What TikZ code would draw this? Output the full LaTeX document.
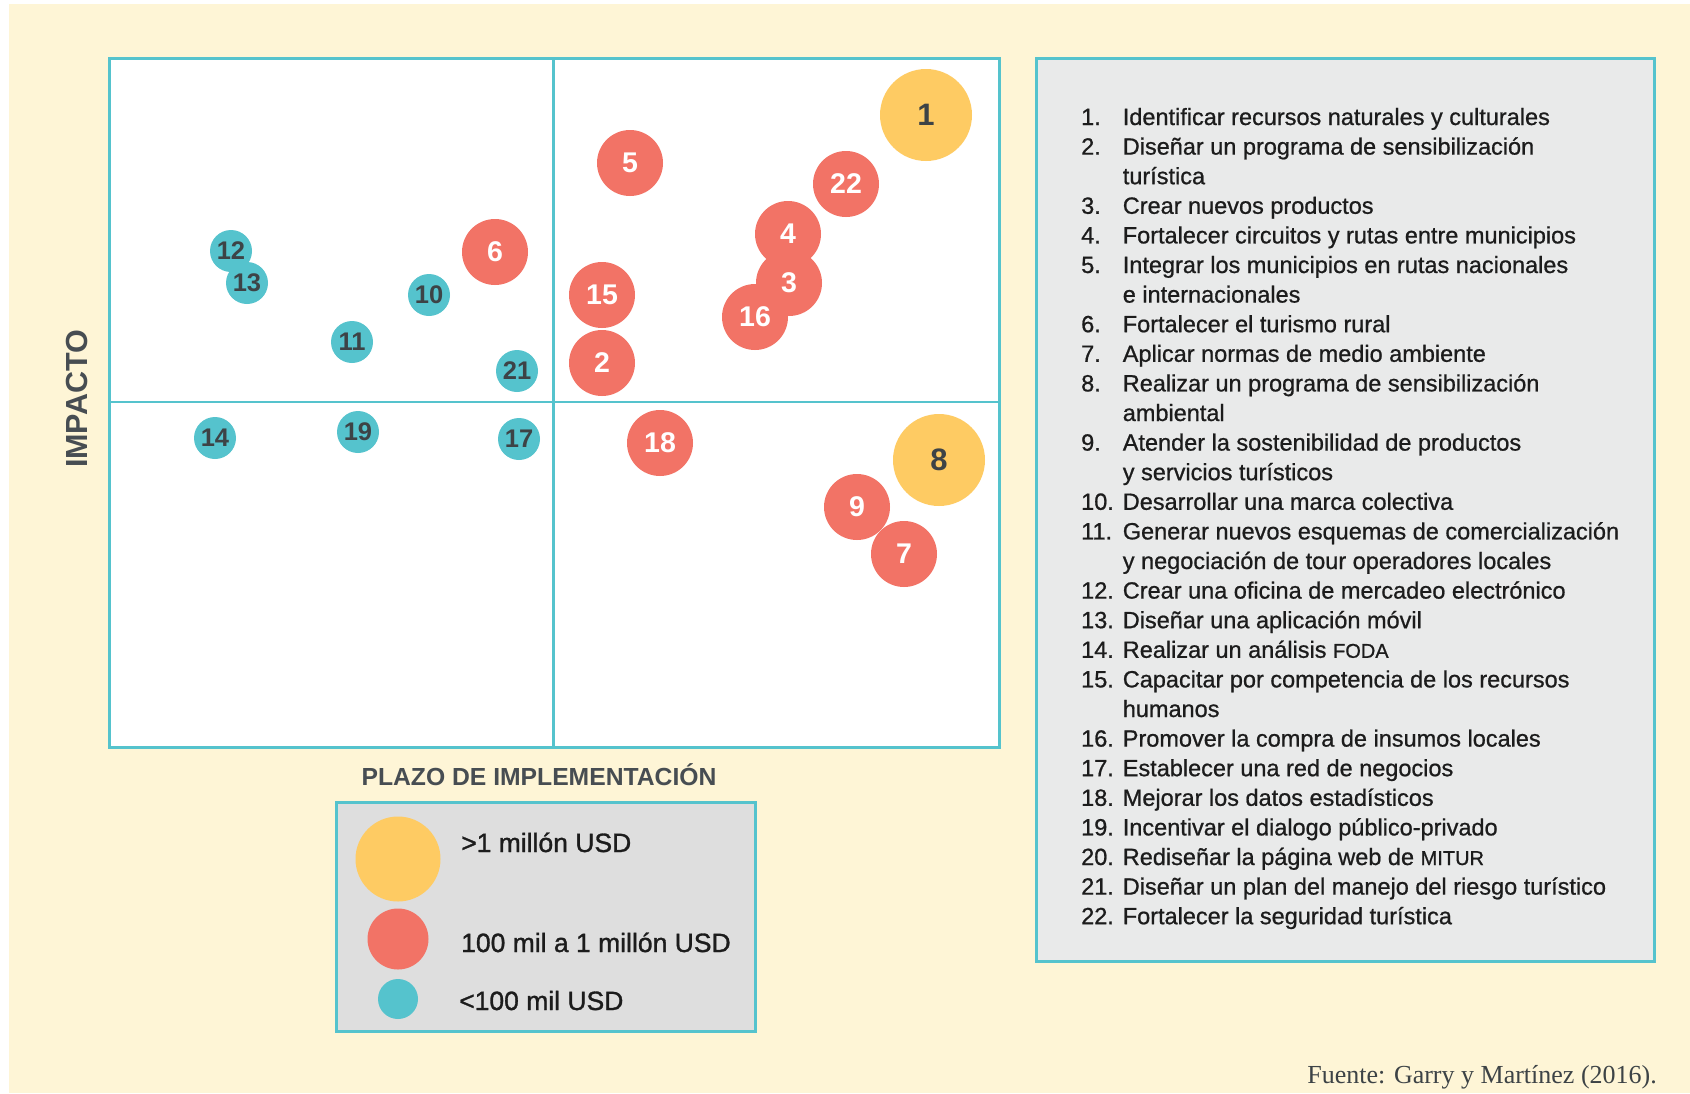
\documentclass[tikz,border=0pt]{standalone}
\usepackage{fontspec}
\setmainfont{Liberation Sans}
\newfontfamily\medf[FakeBold=0.8]{Liberation Sans}
\newfontfamily\legf[FakeBold=1.2]{Liberation Sans}
\newfontfamily\srf{Liberation Serif}
\definecolor{cream}{HTML}{FEF5D6}
\definecolor{cyanc}{HTML}{55C3CD}
\definecolor{redc}{HTML}{F27366}
\definecolor{yelc}{HTML}{FECB63}
\definecolor{darkt}{HTML}{3D4346}
\definecolor{axist}{HTML}{474D52}
\definecolor{listbg}{HTML}{E9EAEA}
\definecolor{legbg}{HTML}{DEDEDE}
\definecolor{listt}{HTML}{1C1C1C}
\tikzset{
  frame/.style={draw=cyanc, line width=2.5pt, inner sep=0pt, anchor=north west},
  bub/.style={circle, inner sep=0pt, draw=none, font=\bfseries},
  cy/.style={bub, fill=cyanc, minimum size=42pt, text=darkt, font=\fontsize{25.5}{25}\selectfont\bfseries},
  rd/.style={bub, fill=redc, minimum size=66pt, text=white, font=\fontsize{28.5}{28}\selectfont\bfseries},
  yl/.style={bub, fill=yelc, minimum size=92pt, text=darkt, font=\fontsize{31}{30}\selectfont\bfseries},
  listtxt/.style={inner sep=0pt, anchor=base west, text=listt, font=\medf\fontsize{23.5}{28}\selectfont},
  legtxt/.style={inner sep=0pt, anchor=base west, text=listt, font=\legf\fontsize{26.5}{30}\selectfont},
  axlab/.style={inner sep=0pt, text=axist, font=\bfseries}
}
\begin{document}
\begin{tikzpicture}[x=1pt,y=-1pt]
\useasboundingbox (0,0) rectangle (1690,1093);
\fill[white] (0,0) rectangle (1690,1093);
\fill[cream] (9,4) rectangle (1690,1093);
% plot frame
\node[frame, fill=white, minimum width=890pt, minimum height=689pt] (plot) at (108,57) {};
\coordinate (vt) at (553.5,57);
\coordinate (vb) at (553.5,748);
\coordinate (hl) at (108,402);
\coordinate (hr) at (1000,402);
\draw[cyanc, line width=2.5pt] (vt) -- (vb);
\draw[cyanc, line width=2.5pt] (hl) -- (hr);
% axis labels
\node[axlab, rotate=90, font=\fontsize{30.5}{30}\selectfont\bfseries] (impacto) at (77,399) {IMPACTO};
\node[axlab, font=\fontsize{24.7}{25}\selectfont\bfseries] (plazo) at (539,775) {PLAZO DE IMPLEMENTACIÓN};
% bubbles
\node[cy] (b12) at (231,251) {12};
\node[cy] (b13) at (247,283) {13};
\node[cy] (b10) at (429,295) {10};
\node[cy] (b11) at (352,342) {11};
\node[cy] (b21) at (517,371) {21};
\node[cy] (b14) at (215,438) {14};
\node[cy] (b19) at (358,432) {19};
\node[cy] (b17) at (519,439) {17};
\node[rd] (b6) at (495,252) {6};
\node[rd] (b5) at (630,163) {5};
\node[rd] (b22) at (846,184) {22};
\node[rd] (b4) at (788,234) {4};
\node[rd] (b3) at (789,283) {3};
\node[rd] (b16) at (755,317) {16};
\node[rd] (b15) at (602,295) {15};
\node[rd] (b2) at (602,363) {2};
\node[rd] (b18) at (660,443) {18};
\node[rd] (b9) at (857,507) {9};
\node[rd] (b7) at (904,554) {7};
\node[yl] (b1) at (926,115) {1};
\node[yl] (b8) at (939,460) {8};
% legend
\node[frame, fill=legbg, minimum width=419pt, minimum height=229pt] (legend) at (335,801) {};
\node[bub, fill=yelc, minimum size=85pt] (ly) at (398,859) {};
\node[bub, fill=redc, minimum size=61pt] (lr) at (398,939) {};
\node[bub, fill=cyanc, minimum size=40pt] (lc) at (398,999) {};
\node[legtxt] (lty) at (461,852) {>1 millón USD};
\node[legtxt] (ltr) at (461,952) {100 mil a 1 millón USD};
\node[legtxt] (ltc) at (459,1010) {<100 mil USD};
% list box
\node[frame, fill=listbg, minimum width=618pt, minimum height=903pt] (listbox) at (1035,57) {};
\foreach \k/\n/\t in {
 0/1./Identificar recursos naturales y culturales,
 1/2./Diseñar un programa de sensibilización,
 2//turística,
 3/3./Crear nuevos productos,
 4/4./Fortalecer circuitos y rutas entre municipios,
 5/5./Integrar los municipios en rutas nacionales,
 6//e internacionales,
 7/6./Fortalecer el turismo rural,
 8/7./Aplicar normas de medio ambiente,
 9/8./Realizar un programa de sensibilización,
 10//ambiental,
 11/9./Atender la sostenibilidad de productos,
 12//y servicios turísticos,
 13/10./Desarrollar una marca colectiva,
 14/11./Generar nuevos esquemas de comercialización,
 15//y negociación de tour operadores locales,
 16/12./Crear una oficina de mercadeo electrónico,
 17/13./Diseñar una aplicación móvil,
 18/14./Realizar un análisis {\fontsize{20}{20}\selectfont FODA},
 19/15./Capacitar por competencia de los recursos,
 20//humanos,
 21/16./Promover la compra de insumos locales,
 22/17./Establecer una red de negocios,
 23/18./Mejorar los datos estadísticos,
 24/19./Incentivar el dialogo público-privado,
 25/20./Rediseñar la página web de {\fontsize{20}{20}\selectfont MITUR},
 26/21./Diseñar un plan del manejo del riesgo turístico,
 27/22./Fortalecer la seguridad turística}{
  \node[listtxt] (ln\k) at (1081,{125+29.6*\k}) {\n};
  \node[listtxt] (lt\k) at (1122.6,{125+29.6*\k}) {\t};
}
% source
\node[inner sep=0pt, anchor=base east, text=darkt, font=\srf\fontsize{26}{26}\selectfont] (src) at (1657,1083) {Fuente: Garry y Martínez (2016).};
\end{tikzpicture}
\end{document}
